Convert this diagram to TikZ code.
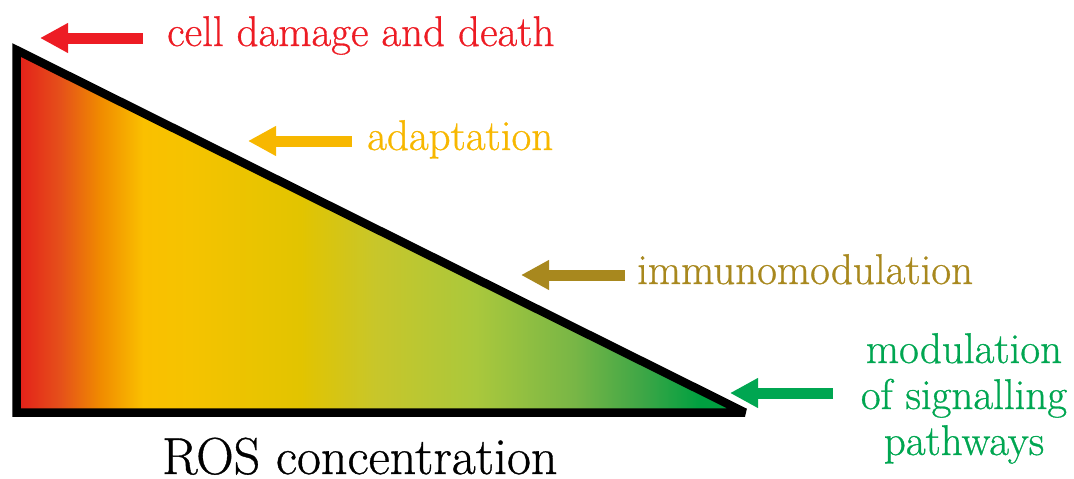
\documentclass[tikz,border=0pt]{standalone}
\usepackage{fontspec}
\newfontfamily\lmb{Latin Modern Roman}[FakeBold=0.7]
\usetikzlibrary{arrows.meta}
\definecolor{s0}{HTML}{E41E1A}
\definecolor{s1}{HTML}{E5501A}
\definecolor{s2}{HTML}{F08A00}
\definecolor{s3}{HTML}{FAC000}
\definecolor{s4}{HTML}{F5C300}
\definecolor{s5}{HTML}{E2C400}
\definecolor{s6}{HTML}{C8C62A}
\definecolor{s7}{HTML}{AAC83C}
\definecolor{s8}{HTML}{78B646}
\definecolor{s9}{HTML}{3CA646}
\definecolor{s10}{HTML}{00A040}
\definecolor{cred}{RGB}{237,28,36}
\definecolor{cyel}{RGB}{247,183,0}
\definecolor{cimm}{RGB}{168,136,30}
\definecolor{cgrn}{RGB}{0,166,81}
\pgfdeclarehorizontalshading{rosgrad}{100bp}{color(0bp)=(s0); color(25bp)=(s0); color(28bp)=(s1); color(30.7bp)=(s2); color(33.7bp)=(s3); color(36.9bp)=(s4); color(44.5bp)=(s5); color(49.6bp)=(s6); color(56.5bp)=(s7); color(63.3bp)=(s8); color(68.1bp)=(s9); color(71.9bp)=(s10); color(75bp)=(s10); color(100bp)=(s10)}
\begin{document}
\begin{tikzpicture}[x=1pt,y=-1pt,
  lbl/.style={font=\lmb\fontsize{43}{46}\selectfont, anchor=base west, inner sep=0pt},
  glbl/.style={font=\lmb\fontsize{43}{46}\selectfont, anchor=base, inner sep=0pt, text=cgrn},
  arr/.style={line width=11pt, -{Triangle[length=28pt,width=28pt]}}]
\useasboundingbox (0,0) rectangle (1074,479);
\coordinate (T) at (16.5,50);
\coordinate (B) at (16.5,412.5);
\coordinate (R) at (745,412.5);
\shade[shading=rosgrad] (T) -- (B) -- (R) -- cycle;
\draw[line width=8.5pt, line join=miter, miter limit=2] (T) -- (B) -- (R) -- cycle;
% labels
\node[lbl, text=cred] (cd) at (167,46) {cell damage and death};
\node[lbl, text=cyel] (ad) at (367,150) {adaptation};
\node[lbl, text=cimm] (im) at (637,284) {immunomodulation};
\node[glbl] (m1) at (964,363) {modulation};
\node[glbl] (m2) at (964,409) {of signalling};
\node[glbl] (m3) at (964,455) {pathways};
\node[font=\lmb\fontsize{52}{54}\selectfont, anchor=base west, inner sep=0pt] (ros) at (162,474) {ROS concentration};
% arrows
\coordinate (cdtail) at (143,38);
\coordinate (cdtip) at (40,38);
\coordinate (adtail) at (352,141);
\coordinate (adtip) at (248,141);
\coordinate (imtail) at (625,275);
\coordinate (imtip) at (521,275);
\coordinate (mtail) at (833,393);
\coordinate (mtip) at (730,393);
\draw[arr, cred] (cdtail) -- (cdtip);
\draw[arr, cyel] (adtail) -- (adtip);
\draw[arr, cimm] (imtail) -- (imtip);
\draw[arr, cgrn] (mtail) -- (mtip);
\end{tikzpicture}
\end{document}
